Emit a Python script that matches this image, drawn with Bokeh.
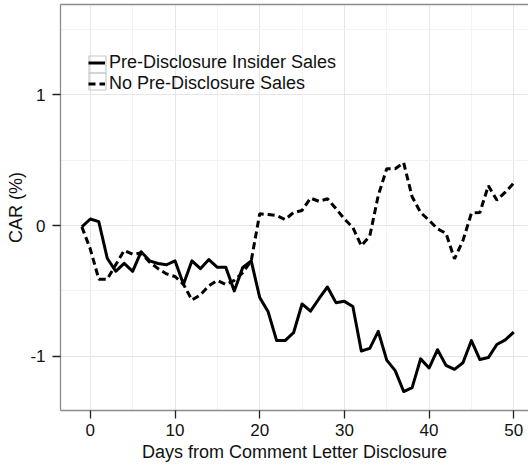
from bokeh.plotting import figure
from bokeh.models import (Range1d, SingleIntervalTicker, Legend, LegendItem,
                          LinearAxis, FixedTicker, PrintfTickFormatter, BoxAnnotation)
from bokeh.embed import file_html
from bokeh.resources import INLINE

days = list(range(-1, 51))

insider_sales = [-0.01, 0.05, 0.03, -0.25, -0.35, -0.29, -0.35, -0.20, -0.27, -0.29,
                 -0.30, -0.27, -0.45, -0.27, -0.33, -0.26, -0.32, -0.32, -0.50, -0.32,
                 -0.27, -0.55, -0.66, -0.88, -0.88, -0.82, -0.60, -0.655, -0.56, -0.47,
                 -0.59, -0.58, -0.62, -0.96, -0.94, -0.81, -1.03, -1.11, -1.27, -1.24,
                 -1.02, -1.09, -0.95, -1.07, -1.10, -1.05, -0.88, -1.025, -1.01, -0.91,
                 -0.875, -0.815]

no_sales = [-0.01, -0.18, -0.41, -0.41, -0.30, -0.19, -0.22, -0.21, -0.28, -0.33,
            -0.37, -0.39, -0.45, -0.57, -0.53, -0.46, -0.42, -0.45, -0.42, -0.36,
            -0.27, 0.09, 0.084, 0.077, 0.046, 0.10, 0.115, 0.21, 0.185, 0.205,
            0.13, 0.05, -0.015, -0.155, -0.08, 0.23, 0.435, 0.435, 0.48, 0.22,
            0.10, 0.04, -0.025, -0.06, -0.255, -0.115, 0.095, 0.10, 0.305, 0.195,
            0.255, 0.325]

x_ticks = [0, 10, 20, 30, 40, 50]
y_ticks = [-1, 0, 1]

FONT = "Liberation Sans"

p = figure(width=528, height=466, output_backend="svg", toolbar_location=None,
           x_range=Range1d(-3.52, 51.74), y_range=Range1d(-1.415, 1.691),
           min_border_left=60, min_border_right=0, min_border_top=4,
           min_border_bottom=56)

p.background_fill_color = "white"
p.border_fill_color = "white"
p.outline_line_color = None

r1 = p.line(days, insider_sales, line_color="black", line_width=3, line_join="round")
r2 = p.line(days, no_sales, line_color="black", line_width=3, line_dash="7 4")

# axes
xt = SingleIntervalTicker(interval=10, num_minor_ticks=2)
yt = SingleIntervalTicker(interval=1, num_minor_ticks=2)
p.xaxis.ticker = xt
p.yaxis.ticker = yt
for ax in (p.xaxis[0], p.yaxis[0]):
    ax.formatter = PrintfTickFormatter(format="%d")
    ax.axis_line_color = "#8c8c8c"
    ax.axis_line_width = 1.3
    ax.major_tick_line_color = "#222222"
    ax.major_tick_line_width = 1.3
    ax.major_tick_out = 8
    ax.major_tick_in = 0
    ax.minor_tick_line_color = None
    ax.major_label_text_font = FONT
    ax.major_label_text_font_size = "17px"
    ax.major_label_text_color = "#111111"
    ax.axis_label_text_font = FONT
    ax.axis_label_text_font_size = "18px"
    ax.axis_label_text_font_style = "normal"
    ax.axis_label_text_color = "#111111"

p.xaxis.axis_label = "Days from Comment Letter Disclosure"
p.yaxis.axis_label = "CAR (%)"
p.xaxis.major_label_standoff = 5
p.xaxis.axis_label_standoff = 3
p.yaxis.major_label_standoff = 7
p.yaxis.axis_label_standoff = 1

top_axis = LinearAxis(ticker=FixedTicker(ticks=[]), axis_line_color="#8c8c8c",
                      axis_line_width=1.3, major_tick_line_color=None,
                      minor_tick_line_color=None, major_label_text_font_size="0px")
p.add_layout(top_axis, "above")

# grid
p.xgrid.ticker = xt
p.ygrid.ticker = yt
p.xgrid.grid_line_color = "#e6e6e6"
p.ygrid.grid_line_color = "#e6e6e6"
p.xgrid.minor_grid_line_color = "#f3f3f3"
p.ygrid.minor_grid_line_color = "#f3f3f3"

# legend key boxes (decoration, canvas pixels)
for top, bottom in ((55, 72), (72, 89)):
    p.add_layout(BoxAnnotation(left=88.5, right=105.5, top=top + 0.5, bottom=bottom + 0.5,
                               left_units="canvas", right_units="canvas",
                               top_units="canvas", bottom_units="canvas",
                               fill_alpha=0, line_color="#c8c8c8", line_width=1.2,
                               line_alpha=1.0))

legend = Legend(items=[LegendItem(label="Pre-Disclosure Insider Sales", renderers=[r1]),
                       LegendItem(label="No Pre-Disclosure Sales", renderers=[r2])],
                location=(28, 316), orientation="vertical",
                glyph_width=17, glyph_height=17, label_height=17,
                label_standoff=4, spacing=-3, padding=0, margin=0,
                label_text_font=FONT, label_text_font_size="18px",
                label_text_color="#111111",
                background_fill_alpha=0, border_line_color=None)
p.add_layout(legend, "center")

open("out.html", "w").write(file_html(p, INLINE))
